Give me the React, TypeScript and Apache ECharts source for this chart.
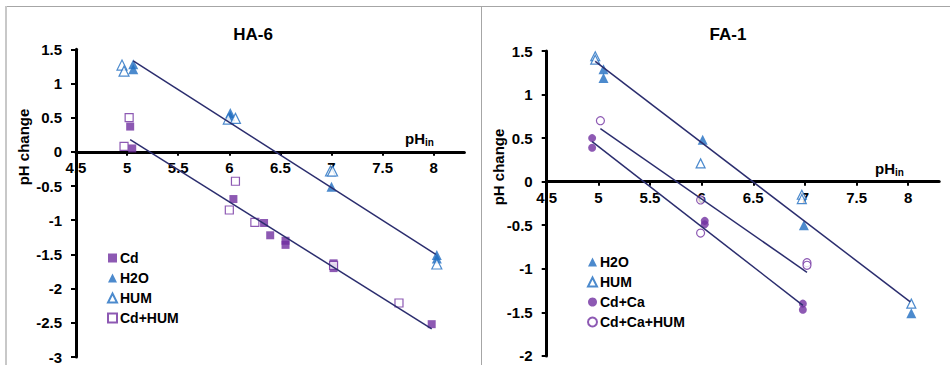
import React, { useEffect, useRef } from "react";
import * as echarts from "echarts";

// ---- HA-6 panel data [pHin, pH change] ----
const haCd: number[][] = [
  [5.03, 0.37], [5.05, 0.05], [6.04, -0.69], [6.34, -1.04], [6.40, -1.22],
  [6.55, -1.30], [6.55, -1.36], [7.02, -1.63], [7.02, -1.70], [7.98, -2.52],
];
const haH2O: number[][] = [
  [5.06, 1.28], [5.06, 1.21], [6.01, 0.57], [6.01, 0.52], [7.00, -0.51],
  [8.03, -1.51], [8.03, -1.56],
];
const haHUM: number[][] = [
  [4.95, 1.27], [4.97, 1.18], [5.99, 0.48], [6.06, 0.49], [6.99, -0.28],
  [7.01, -0.28], [8.03, -1.64],
];
const haCdHUM: number[][] = [
  [5.02, 0.50], [4.97, 0.08], [6.06, -0.43], [6.00, -0.85], [6.25, -1.03],
  [7.02, -1.66], [7.66, -2.21],
];
const haTrendH2O: number[][] = [[5.06, 1.33], [8.02, -1.50]];
const haTrendCd: number[][] = [[5.03, 0.18], [7.98, -2.59]];

// ---- FA-1 panel data ----
const faH2O: number[][] = [
  [5.05, 1.29], [5.05, 1.19], [6.01, 0.48], [6.99, -0.50], [8.03, -1.51],
];
const faHUM: number[][] = [
  [4.97, 1.44], [4.97, 1.40], [5.99, 0.21], [6.97, -0.15], [6.97, -0.20], [8.03, -1.40],
];
const faCdCa: number[][] = [
  [4.94, 0.50], [4.94, 0.39], [6.03, -0.45], [6.03, -0.49], [6.98, -1.40], [6.98, -1.47],
];
const faCdCaHUM: number[][] = [
  [5.02, 0.70], [5.99, -0.21], [5.99, -0.59], [7.02, -0.93], [7.02, -0.96],
];
const faTrendH2O: number[][] = [[4.97, 1.38], [8.02, -1.38]];
const faTrendCdCaHUM: number[][] = [[5.02, 0.61], [7.02, -1.04]];
const faTrendCdCa: number[][] = [[4.94, 0.46], [6.98, -1.42]];

const titles = ["HA-6", "FA-1"];
const legendHA = ["Cd", "H2O", "HUM", "Cd+HUM"];
const legendFA = ["H2O", "HUM", "Cd+Ca", "Cd+Ca+HUM"];
const yRangeHA = [-3, 1.5];
const yRangeFA = [-2, 1.5];
const xRange = [4.5, 8.3];

const PURPLE = "#7030A0";
const BLUE = "#1F6DC0";
const TREND = "#2B2D6E";
const FONT = "'Liberation Sans', Arial, sans-serif";

export default function App() {
  const ref = useRef<HTMLDivElement>(null);
  useEffect(() => {
    if (!ref.current) return;
    const chart = echarts.init(ref.current, null, { renderer: "svg" });

    const grids = [
      { left: 76, top: 49.3, width: 388.4, height: 307.7 },
      { left: 546.7, top: 51, width: 392.5, height: 304.9 },
    ];
    const yRanges = [yRangeHA, yRangeFA];

    const xAxisBase = (gridIndex: number) => {
      const [ymin, ymax] = yRanges[gridIndex];
      const h = grids[gridIndex].height;
      return {
        type: "value",
        gridIndex,
        min: xRange[0],
        max: xRange[1],
        interval: 0.5,
        position: "bottom",
        offset: -h * (0 - ymin) / (ymax - ymin),
        axisLine: { show: true, onZero: false, lineStyle: { color: "#000", width: 3 } },
        axisTick: { show: true, inside: false, length: 4, lineStyle: { color: "#000", width: 2 } },
        axisLabel: {
          margin: 8,
          showMaxLabel: false,
          color: "#000",
          fontFamily: FONT,
          fontWeight: "bold",
          fontSize: 15,
          formatter: (v: number) => (v > 8.01 ? "" : String(v)),
        },
        splitLine: { show: false },
      };
    };
    const yAxisBase = (gridIndex: number) => ({
      type: "value",
      gridIndex,
      min: yRanges[gridIndex][0],
      max: yRanges[gridIndex][1],
      interval: 0.5,
      axisLine: { show: true, onZero: false, lineStyle: { color: "#000", width: 3 } },
      axisTick: { show: true, inside: false, length: 5, lineStyle: { color: "#000", width: 2 } },
      axisLabel: {
        margin: 14,
        color: "#000",
        fontFamily: FONT,
        fontWeight: "bold",
        fontSize: 15,
      },
      splitLine: { show: false },
    });

    const scatter = (
      name: string,
      data: number[][],
      idx: number,
      symbol: string,
      size: number,
      filled: boolean,
      color: string
    ) => ({
      type: "scatter",
      name,
      data,
      xAxisIndex: idx,
      yAxisIndex: idx,
      symbol,
      symbolSize: size,
      itemStyle: filled
        ? { color, borderWidth: 0 }
        : { color: "#fff", borderColor: color, borderWidth: 1.2 },
      z: 3,
    });
    const trend = (data: number[][], idx: number) => ({
      type: "line",
      name: "trend",
      data,
      xAxisIndex: idx,
      yAxisIndex: idx,
      symbol: "none",
      lineStyle: { color: TREND, width: 1.5 },
      z: 4,
      silent: true,
    });

    const legendBase = (left: number, top: number, data: string[]) => ({
      orient: "vertical",
      left,
      top,
      itemWidth: 9,
      itemHeight: 9,
      itemGap: 6,
      padding: 0,
      data,
      textStyle: { fontFamily: FONT, fontWeight: "bold", fontSize: 14, color: "#000", padding: [0, 0, 0, -2] },
    });

    const sub = (x: number, y: number) => ({
      type: "text",
      x,
      y,
      style: {
        text: "{m|pH}{s|in}",
        rich: {
          m: { fontFamily: FONT, fontWeight: "bold", fontSize: 15, fill: "#000" },
          s: { fontFamily: FONT, fontWeight: "bold", fontSize: 10, fill: "#000", padding: [9, 0, 0, 0] },
        },
        verticalAlign: "middle",
        align: "left",
      },
      z: 10,
    });

    const option: any = {
      animation: false,
      backgroundColor: "#fff",
      title: [
        { text: titles[0], left: 248, top: 21, textAlign: "center", textStyle: { fontFamily: FONT, fontWeight: "bold", fontSize: 17, color: "#000" } },
        { text: titles[1], left: 723, top: 21, textAlign: "center", textStyle: { fontFamily: FONT, fontWeight: "bold", fontSize: 17, color: "#000" } },
      ],
      grid: grids,
      xAxis: [xAxisBase(0), xAxisBase(1)],
      yAxis: [yAxisBase(0), yAxisBase(1)],
      legend: [legendBase(107, 251, legendHA), legendBase(587, 255, legendFA)],
      series: [
        scatter("Cd", haCd, 0, "rect", 8, true, PURPLE),
        scatter("H2O", haH2O, 0, "triangle", 10, true, BLUE),
        scatter("HUM", haHUM, 0, "triangle", 10, false, BLUE),
        scatter("Cd+HUM", haCdHUM, 0, "rect", 8, false, PURPLE),
        trend(haTrendH2O, 0),
        trend(haTrendCd, 0),
        scatter("H2O", faH2O, 1, "triangle", 10, true, BLUE),
        scatter("HUM", faHUM, 1, "triangle", 9, false, BLUE),
        scatter("Cd+Ca", faCdCa, 1, "circle", 8, true, PURPLE),
        scatter("Cd+Ca+HUM", faCdCaHUM, 1, "circle", 8, false, PURPLE),
        trend(faTrendH2O, 1),
        trend(faTrendCdCaHUM, 1),
        trend(faTrendCdCa, 1),
      ],
      graphic: [
        { type: "line", shape: { x1: 6, y1: 6.5, x2: 950, y2: 6.5 }, style: { stroke: "#a6a6a6", lineWidth: 1 }, silent: true },
        { type: "line", shape: { x1: 6, y1: 6, x2: 6, y2: 365 }, style: { stroke: "#c8c8c8", lineWidth: 2 }, silent: true },
        { type: "line", shape: { x1: 481.5, y1: 6, x2: 481.5, y2: 365 }, style: { stroke: "#a6a6a6", lineWidth: 1 }, silent: true },
        {
          type: "text", x: 23, y: 147, rotation: Math.PI / 2,
          style: { text: "pH change", fontFamily: FONT, fontWeight: "bold", fontSize: 15, fill: "#000", align: "center", verticalAlign: "middle" },
        },
        {
          type: "text", x: 498, y: 167, rotation: Math.PI / 2,
          style: { text: "pH change", fontFamily: FONT, fontWeight: "bold", fontSize: 15, fill: "#000", align: "center", verticalAlign: "middle" },
        },
        sub(405, 138),
        sub(875, 168),
      ],
    };
    chart.setOption(option);
    return () => chart.dispose();
  }, []);
  return <div ref={ref} style={{ position: "fixed", left: 0, top: 0, width: 950, height: 365 }} />;
}
